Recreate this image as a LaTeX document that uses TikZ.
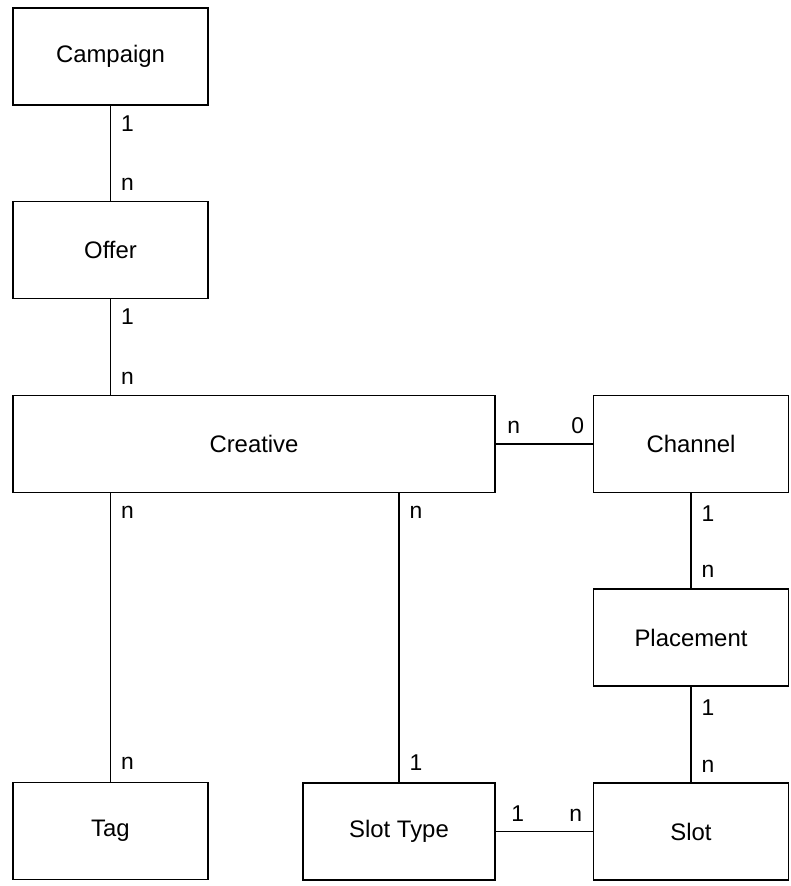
\documentclass[tikz,border=0pt]{standalone}
\usepackage{fontspec}
\setmainfont{Liberation Sans}
\usetikzlibrary{positioning}

\tikzset{
  entity/.style={draw,line width=0.8pt,minimum width=3.9cm,minimum height=1.94cm,
    font=\fontsize{13.6}{16}\selectfont},
  mult/.style={font=\fontsize{13}{15}\selectfont,inner sep=0pt},
}

\begin{document}
\begin{tikzpicture}[x=0.02cm,y=-0.02cm]
  \useasboundingbox (0,0) rectangle (791,886);
  \node[entity] (campaign) at (110.5,56.5) {Campaign};
  \node[entity] (offer) at (110.5,250) {Offer};
  \node[entity,minimum width=9.64cm] (creative) at (254,444) {Creative};
  \node[entity] (channel) at (691,444) {Channel};
  \node[entity] (placement) at (691,637.5) {Placement};
  \node[entity] (tag) at (110.5,831) {Tag};
  \node[entity,minimum width=3.84cm] (slottype) at (399,831.5) {Slot Type};
  \node[entity] (slot) at (691,831.5) {Slot};

  \begin{scope}[line width=0.8pt]
    \draw (campaign.south) -- (offer.north)
      node[mult,pos=0,anchor=north west,xshift=0.2cm,yshift=-0.18cm]{1}
      node[mult,pos=1,anchor=base west,xshift=0.2cm,yshift=0.2cm]{n};
    \draw (offer.south) -- (creative.north -| offer.south)
      node[mult,pos=0,anchor=north west,xshift=0.2cm,yshift=-0.18cm]{1}
      node[mult,pos=1,anchor=base west,xshift=0.2cm,yshift=0.2cm]{n};
    \draw (creative.south -| tag.north) -- (tag.north)
      node[mult,pos=0,anchor=north west,xshift=0.2cm,yshift=-0.24cm]{n}
      node[mult,pos=1,anchor=base west,xshift=0.2cm,yshift=0.24cm]{n};
    \draw (creative.south -| slottype.north) -- (slottype.north)
      node[mult,pos=0,anchor=north west,xshift=0.2cm,yshift=-0.24cm]{n}
      node[mult,pos=1,anchor=base west,xshift=0.2cm,yshift=0.24cm]{1};
    \draw (creative.east) -- (channel.west)
      node[mult,pos=0,anchor=base west,xshift=0.22cm,yshift=0.22cm]{n}
      node[mult,pos=1,anchor=base east,xshift=-0.16cm,yshift=0.22cm]{0};
    \draw (channel.south) -- (placement.north)
      node[mult,pos=0,anchor=north west,xshift=0.2cm,yshift=-0.24cm]{1}
      node[mult,pos=1,anchor=base west,xshift=0.2cm,yshift=0.22cm]{n};
    \draw (placement.south) -- (slot.north)
      node[mult,pos=0,anchor=north west,xshift=0.2cm,yshift=-0.24cm]{1}
      node[mult,pos=1,anchor=base west,xshift=0.2cm,yshift=0.2cm]{n};
    \draw (slottype.east) -- (slot.west)
      node[mult,pos=0,anchor=base west,xshift=0.3cm,yshift=0.2cm]{1}
      node[mult,pos=1,anchor=base east,xshift=-0.2cm,yshift=0.2cm]{n};
  \end{scope}
\end{tikzpicture}
\end{document}
